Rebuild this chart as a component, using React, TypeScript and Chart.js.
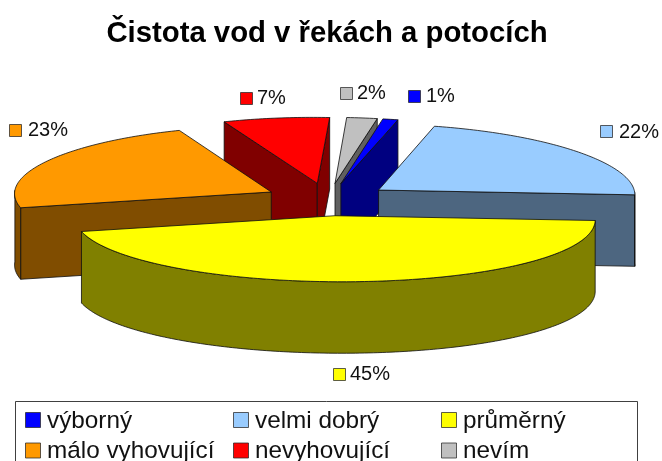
import React, { useEffect, useRef } from "react";
import { Chart, registerables } from "chart.js";

Chart.register(...registerables);

const categories = ["výborný", "velmi dobrý", "průměrný", "málo vyhovující", "nevyhovující", "nevím"];
const shares = [1, 22, 45, 23, 7, 2];
const topColors = ["#0000FF", "#99CCFF", "#FFFF00", "#FF9900", "#FF0000", "#C0C0C0"];
const wallColors = ["#000080", "#4D6680", "#808000", "#804D00", "#800000", "#606060"];
const FONT = '"Liberation Sans", Arial, sans-serif';

// Layout of the flattened 3D view: scale, slight perspective and tilt of the disc
const VIEW = {
  cx: 328,
  cy: 199.5,
  scaleX: 257.5 / 150,
  scaleY: 66 / 150,
  depth: 71.5,
  explode: 37,
  radius: 150,
  perspective: 0.04,
  tilt: 0.006,
};
const labelAnchors = [
  { key: [408, 90], text: [426, 96] },
  { key: [600, 125], text: [619, 132] },
  { key: [333, 368], text: [350, 374] },
  { key: [9, 124], text: [28, 130] },
  { key: [240, 92], text: [257, 98] },
  { key: [340, 87], text: [357, 93] },
];
const LEGEND = { x: 15.5, y: 401.5, w: 622, h: 70, cols: [25, 233, 441], rows: [420, 450.5], font: 24.3, textGap: 22 };
const OUTLINE = "rgba(15,15,15,0.8)";

const pie3d = {
  id: "pie3d",
  beforeDatasetDraw(chart: any) {
    const ctx = chart.ctx;
    const arcs = chart.getDatasetMeta(0).data as any[];
    const mid = (a: any) => (a.startAngle + a.endAngle) / 2;
    const pt = (a: any, r: number, ang: number, dy = 0) => {
      const m = mid(a);
      const gx = r * Math.cos(ang) + VIEW.explode * Math.cos(m);
      const gy = r * Math.sin(ang) + VIEW.explode * Math.sin(m);
      const x = VIEW.scaleX * gx * (1 + (VIEW.perspective * gy) / VIEW.radius);
      return [VIEW.cx + x, VIEW.cy + VIEW.scaleY * gy + VIEW.tilt * x + dy];
    };
    const poly = (points: number[][], fill?: string) => {
      ctx.beginPath();
      points.forEach((p, i) => (i ? ctx.lineTo(p[0], p[1]) : ctx.moveTo(p[0], p[1])));
      ctx.closePath();
      if (fill) {
        ctx.fillStyle = fill;
        ctx.fill();
      }
      ctx.lineWidth = 1;
      ctx.strokeStyle = OUTLINE;
      ctx.lineJoin = "round";
      ctx.stroke();
    };
    const sweep = (a: any, from: number, to: number, dy = 0) => {
      const n = Math.max(2, Math.ceil((to - from) * 60));
      const out: number[][] = [];
      for (let i = 0; i <= n; i++) out.push(pt(a, a.outerRadius, from + ((to - from) * i) / n, dy));
      return out;
    };
    const order = arcs.map((_, i) => i).sort((p, q) => Math.sin(mid(arcs[p])) - Math.sin(mid(arcs[q])));
    order.forEach((i) => {
      const a = arcs[i];
      const wall = wallColors[i];
      const radial = (ang: number) => {
        poly([pt(a, 0, ang), pt(a, a.outerRadius, ang), pt(a, a.outerRadius, ang, VIEW.depth), pt(a, 0, ang, VIEW.depth)], wall);
      };
      if (Math.cos(a.startAngle) < 0) radial(a.startAngle);
      if (Math.cos(a.endAngle) > 0) radial(a.endAngle);
      [0, 2 * Math.PI].forEach((k) => {
        const from = Math.max(a.startAngle, k);
        const to = Math.min(a.endAngle, k + Math.PI);
        if (to > from) poly([...sweep(a, from, to), ...sweep(a, from, to, VIEW.depth).reverse()], wall);
      });
      poly([pt(a, 0, a.startAngle), ...sweep(a, a.startAngle, a.endAngle)], topColors[i]);
    });
    return false;
  },
  afterDraw(chart: any) {
    const ctx = chart.ctx;
    const key = (x: number, y: number, size: number, color: string) => {
      ctx.fillStyle = color;
      ctx.fillRect(x + 0.5, y + 0.5, size, size);
      ctx.lineWidth = 1;
      ctx.strokeStyle = "rgba(40,40,40,0.75)";
      ctx.strokeRect(x + 0.5, y + 0.5, size, size);
    };
    ctx.save();
    ctx.textBaseline = "middle";
    ctx.textAlign = "left";
    shares.forEach((v, i) => {
      const at = labelAnchors[i];
      key(at.key[0], at.key[1], 12, topColors[i]);
      ctx.fillStyle = "#111";
      ctx.font = `20px ${FONT}`;
      ctx.fillText(`${v}%`, at.text[0], at.text[1]);
    });
    ctx.lineWidth = 1;
    ctx.strokeStyle = "rgba(30,30,30,0.85)";
    ctx.strokeRect(LEGEND.x, LEGEND.y, LEGEND.w, LEGEND.h);
    categories.forEach((name, i) => {
      const x = LEGEND.cols[i % 3];
      const y = LEGEND.rows[Math.floor(i / 3)];
      key(x, y - 8, 15, topColors[i]);
      ctx.fillStyle = "#111";
      ctx.font = `${LEGEND.font}px ${FONT}`;
      ctx.fillText(name, x + LEGEND.textGap, y + 1);
    });
    ctx.restore();
  },
};

export default function App() {
  const ref = useRef<HTMLCanvasElement>(null);
  useEffect(() => {
    const chart = new Chart(ref.current!, {
      type: "pie",
      data: {
        labels: categories,
        datasets: [{ data: shares, backgroundColor: topColors, borderWidth: 0 }],
      },
      options: {
        animation: false,
        responsive: false,
        rotation: 10,
        radius: VIEW.radius,
        layout: { padding: { right: 8 } },
        plugins: {
          legend: { display: false },
          tooltip: { enabled: false },
          title: {
            display: true,
            text: "Čistota vod v řekách a potocích",
            color: "#000",
            font: { family: FONT, size: 29.3, weight: "bold" },
            padding: { top: 16, bottom: 10 },
          },
        },
      },
      plugins: [pie3d],
    } as any);
    return () => chart.destroy();
  }, []);
  return (
    <canvas
      ref={ref}
      width={662}
      height={461}
      style={{ position: "absolute", left: 0, top: 0, display: "block", filter: "blur(0.4px)" }}
    />
  );
}
